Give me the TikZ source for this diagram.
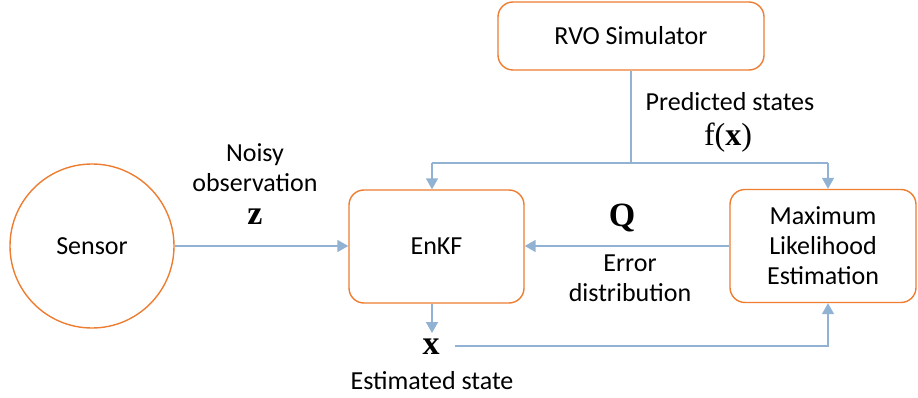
\documentclass[tikz,border=0pt]{standalone}
\usepackage{fontspec}
\setmainfont{Carlito}
\newfontfamily\mathserif{Liberation Serif}
\usetikzlibrary{arrows.meta}
\definecolor{boxorange}{RGB}{237,125,49}
\definecolor{lineblue}{RGB}{146,178,212}
\begin{document}
\begin{tikzpicture}[x=1pt,y=-1pt,
  every node/.style={font=\fontsize{26}{30}\selectfont, align=center, inner sep=0pt},
  rbox/.style={draw=boxorange, line width=1.4pt, rounded corners=15pt},
  conn/.style={draw=lineblue, line width=1.5pt, -{Triangle[length=11pt,width=12pt]}},
  plain/.style={draw=lineblue, line width=1.5pt},
  mth/.style={font=\fontsize{34}{34}\mathserif\bfseries}]
\useasboundingbox (0,0) rectangle (918,398);
% shapes
\node[draw=boxorange, line width=1.4pt, circle, minimum size=164pt] (sensor) at (92,246) {Sensor};
\node[rbox, minimum width=175pt, minimum height=113pt] (enkf) at (436.5,246.5) {EnKF};
\node[rbox, minimum width=266pt, minimum height=68pt] (rvo) at (631,36) {RVO Simulator};
\node[rbox, minimum width=186pt, minimum height=113pt] (mle) at (823,246) {Maximum\\Likelihood\\Estimation};
% labels
\node (noisy) at (255,168) {Noisy\\observation};
\node[mth] (z) at (255,217) {z};
\node (pred) at (730,102) {Predicted states};
\node[font=\fontsize{32}{32}\mathserif] (fx) at (728,138) {f(\textbf{x})};
\node[mth] (q) at (622,218) {Q};
\node (err) at (630,278) {Error\\distribution};
\node[mth] (x) at (431,347) {x};
\node (est) at (432,381) {Estimated state};
% connectors
\coordinate (split) at (631,163);
\coordinate (tl) at (432,163);
\coordinate (tr) at (828,163);
\coordinate (xend) at (455,346);
\coordinate (br) at (828,346);
\coordinate (xtop) at (432,333);
\draw[conn] (sensor.east) -- (sensor.east -| enkf.west);
\draw[plain] (rvo.south -| split) -- (split);
\draw[plain] (tl) -- (tr);
\draw[conn] (tl) -- (tl |- enkf.north);
\draw[conn] (tr) -- (tr |- mle.north);
\draw[conn] (mle.west) -- (mle.west -| enkf.east);
\draw[conn] (enkf.south -| xtop) -- (xtop);
\draw[conn] (xend) -- (br) -- (br |- mle.south);
\end{tikzpicture}
\end{document}
